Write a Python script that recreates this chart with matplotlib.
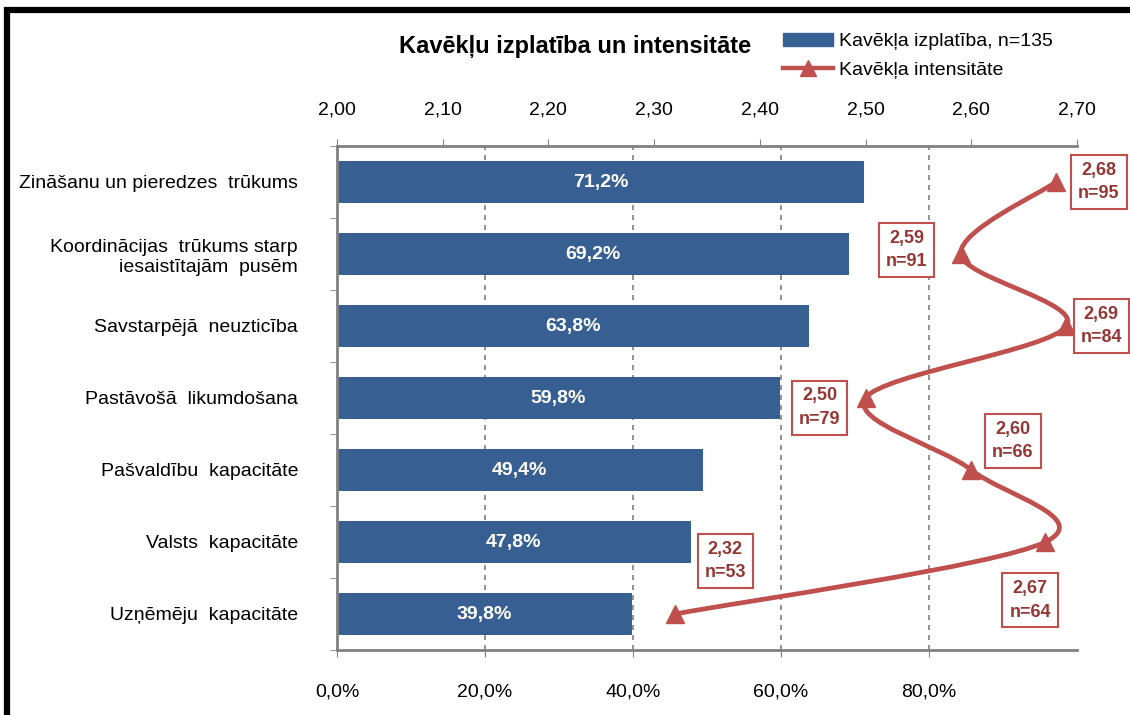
import numpy as np
import matplotlib
matplotlib.use("Agg")
import matplotlib.pyplot as plt
from matplotlib.path import Path
from matplotlib.patches import PathPatch, Rectangle, Patch
from matplotlib.lines import Line2D

plt.rcParams['font.family'] = ['Liberation Sans Narrow', 'Liberation Sans', 'DejaVu Sans']

categories = [
    "Zināšanu un pieredzes  trūkums",
    "Koordinācijas  trūkums starp\niesaistītajām  pusēm",
    "Savstarpējā  neuzticība",
    "Pastāvošā  likumdošana",
    "Pašvaldību  kapacitāte",
    "Valsts  kapacitāte",
    "Uzņēmēju  kapacitāte",
]
spread = [71.2, 69.2, 63.8, 59.8, 49.4, 47.8, 39.8]
intensity = [2.68, 2.59, 2.69, 2.50, 2.60, 2.67, 2.32]
n_resp = [95, 91, 84, 79, 66, 64, 53]

# label offsets (points) for the intensity boxes
label_offsets = [(31, 0), (-39, 3), (25, 0), (-33, -7), (30, 21), (-11, -42), (36, 38)]

BLUE = "#375F91"
RED = "#C0504D"
DARKRED = "#943634"
GRAY = "#808080"


def comma(v, fmt):
    return format(v, fmt).replace(".", ",")


def smooth_path(xs, ys, sx, sy):
    # Excel-like smoothed line: Catmull-Rom converted to cubic Bezier, in screen proportions
    px = np.asarray(xs) * sx
    py = np.asarray(ys) * sy
    n = len(px)
    verts = [(px[0], py[0])]
    codes = [Path.MOVETO]
    for i in range(n - 1):
        p0 = (px[max(i - 1, 0)], py[max(i - 1, 0)])
        p1 = (px[i], py[i])
        p2 = (px[i + 1], py[i + 1])
        p3 = (px[min(i + 2, n - 1)], py[min(i + 2, n - 1)])
        c1 = (p1[0] + (p2[0] - p0[0]) / 6, p1[1] + (p2[1] - p0[1]) / 6)
        c2 = (p2[0] - (p3[0] - p1[0]) / 6, p2[1] - (p3[1] - p1[1]) / 6)
        verts += [c1, c2, p2]
        codes += [Path.CURVE4] * 3
    verts = [(vx / sx, vy / sy) for vx, vy in verts]
    return Path(verts, codes)


fig = plt.figure(figsize=(11.3, 7.15), dpi=100)
ax = fig.add_axes([337 / 1130, 65 / 715, 740 / 1130, 504 / 715])

y = np.arange(len(categories))
bars = ax.barh(y, spread, height=0.57, color=BLUE, zorder=2)
for yi, v in zip(y, spread):
    ax.text(v / 2, yi, comma(v, ".1f") + "%", ha="center", va="center",
            color="white", fontsize=14, fontweight="bold", zorder=3)

ax.set_xlim(0, 100)
ax.set_ylim(6.5, -0.5)
ax.set_xticks([0, 20, 40, 60, 80])
ax.set_xticklabels([comma(t, ".1f") + "%" for t in [0, 20, 40, 60, 80]], fontsize=14)
ax.set_yticks(y)
ax.set_yticklabels(categories, fontsize=14)
ax.set_yticks(np.arange(-0.5, 7, 1), minor=True)
ax.tick_params(axis="y", which="major", length=0, pad=28)
ax.tick_params(axis="y", which="minor", length=5, color=GRAY, direction="out")
ax.tick_params(axis="x", length=5, color=GRAY, direction="out", pad=19)
ax.xaxis.grid(True, linestyle=(0, (3, 3)), color=GRAY, linewidth=1.2, zorder=0)
ax.set_axisbelow(True)
for side in ["right", "top"]:
    ax.spines[side].set_visible(False)
for side in ["left", "bottom"]:
    ax.spines[side].set_color(GRAY)
    ax.spines[side].set_linewidth(2)

ax2 = ax.twiny()
ax2.set_xlim(2.0, 2.7)
ax2.set_ylim(6.5, -0.5)
ticks2 = np.round(np.arange(2.0, 2.71, 0.1), 2)
ax2.set_xticks(ticks2)
ax2.set_xticklabels([comma(t, ".2f") for t in ticks2], fontsize=14)
ax2.tick_params(axis="x", length=5, color=GRAY, direction="out", pad=15)
for side in ["right", "left", "bottom"]:
    ax2.spines[side].set_visible(False)
ax2.spines["top"].set_color(GRAY)
ax2.spines["top"].set_linewidth(2)

path = smooth_path(intensity, y, 740 / 0.7, 72.0)
ax2.add_patch(PathPatch(path, facecolor="none", edgecolor=RED, linewidth=3.4,
                        zorder=4, clip_on=False, capstyle="round"))
ax2.plot(intensity, y, linestyle="none", marker="^", markersize=13, color=RED,
         zorder=5, clip_on=False)

for xv, yv, nv, off in zip(intensity, y, n_resp, label_offsets):
    ax2.annotate(comma(xv, ".2f") + "\nn=" + str(nv), (xv, yv), xytext=off,
                 textcoords="offset points", ha="center", va="center",
                 fontsize=13, fontweight="bold", color=DARKRED, linespacing=1.5,
                 bbox=dict(boxstyle="square,pad=0.38", facecolor="white",
                           edgecolor=RED, linewidth=1.5),
                 zorder=6, annotation_clip=False)

fig.text(575 / 1130, 1 - 47 / 715, "Kavēkļu izplatība un intensitāte",
         ha="center", va="center", fontsize=17, fontweight="bold")

handles = [Patch(facecolor=BLUE, edgecolor=BLUE),
           Line2D([], [], color=RED, linewidth=3.2, marker="^", markersize=11)]
fig.legend(handles, ["Kavēkļa izplatība, n=135", "Kavēkļa intensitāte"],
           loc="upper left", bbox_to_anchor=(775 / 1130, 1 - 25 / 715),
           frameon=False, fontsize=14, handlelength=2.6, handletextpad=0.3,
           labelspacing=0.55, borderaxespad=0)

# outer chart frame (cropped at right and bottom)
fig.patches.append(Rectangle((7 / 1130, -0.1), 1.2, 1 - 10 / 715 + 0.1,
                             transform=fig.transFigure, fill=False,
                             edgecolor="black", linewidth=4.5, zorder=10))

fig.savefig("out.png", dpi=100)
